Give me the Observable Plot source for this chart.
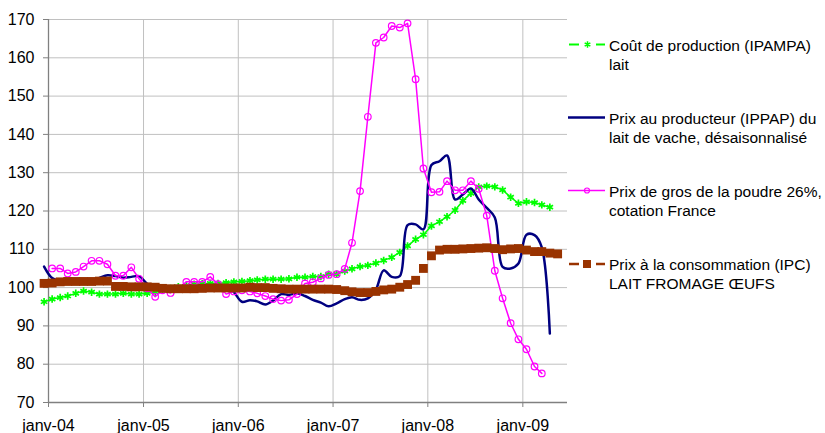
<!DOCTYPE html>
<html><head><meta charset="utf-8">
<script src="https://cdn.jsdelivr.net/npm/d3@7"></script>
<script src="https://cdn.jsdelivr.net/npm/@observablehq/plot@0.6"></script>
<style>
html,body{margin:0;padding:0;background:#fff;}
#wrap{position:relative;width:825px;height:433px;overflow:hidden;background:#fff;}
#legend{position:absolute;left:0;top:0;pointer-events:none;}
</style></head><body><div id="wrap"></div>
<script>
// ---- Data (monthly indices, base 100) ----
const yTicks = [70, 80, 90, 100, 110, 120, 130, 140, 150, 160, 170];
const xTickYears = [2004, 2005, 2006, 2007, 2008, 2009];
const xTickLabels = ["janv-04", "janv-05", "janv-06", "janv-07", "janv-08", "janv-09"];

const seriesNames = [
  ["Coût de production (IPAMPA)", "lait"],
  ["Prix au producteur (IPPAP) du", "lait de vache, désaisonnalisé"],
  ["Prix de gros de la poudre 26%,", "cotation France"],
  ["Prix à la consommation (IPC)", "LAIT FROMAGE ŒUFS"]
];

// Coût de production (IPAMPA) lait — Dec 2003 .. Apr 2009
const coutStart = [2003, 11];
const coutValues = [
  96.3,
  97.0, 97.4, 97.8, 98.5, 99.1, 98.8, 98.3, 98.3, 98.3, 98.5, 98.3, 98.3,
  98.5, 98.8, 99.3, 99.8, 100.2, 100.6, 100.9, 101.0, 101.1, 101.1, 101.3, 101.5,
  101.6, 101.8, 102.0, 102.2, 102.2, 102.2, 102.3, 102.7, 102.7, 102.9, 102.9, 103.5,
  103.5, 104.3, 104.9, 105.5, 105.8, 106.4, 107.1, 107.9, 109.2, 110.9, 112.6, 113.8,
  116.1, 117.2, 118.5, 120.2, 122.7, 124.6, 126.3, 126.5, 126.3, 125.5, 123.6, 122.0,
  122.4, 122.2, 121.6, 121.0
];

// Prix au producteur (IPPAP) lait de vache — Dec 2003 .. Apr 2009
const ippapStart = [2003, 11];
const ippapValues = [
  105.5,
  102.5, 101.8, 101.6, 101.6, 101.7, 101.8, 102.5, 103.2, 103.0, 102.6, 102.8, 103.0,
  101.0, 100.3, 100.0, 99.8, 99.8, 100.0, 100.2, 100.3, 100.5, 100.6, 100.4, 98.8,
  96.3, 96.7, 96.4, 95.6, 96.6, 98.3, 98.1, 98.5, 97.8, 96.8, 96.1, 95.1,
  95.9, 97.0, 97.5, 96.8, 97.2, 99.5, 104.5, 102.8, 103.0, 116.3, 116.5, 115.2,
  132.0, 133.0, 134.5, 123.0, 124.3, 125.9, 123.0, 120.8, 118.3, 105.4, 105.0, 106.3,
  113.8, 113.7, 110.5, 88.0
];

// Prix de gros de la poudre 26% — Jan 2004 .. Mar 2009
const poudreStart = [2004, 0];
const poudreValues = [
  105.0, 105.0, 103.7, 104.1, 105.5, 107.0, 107.0, 106.1, 103.1, 103.1, 105.3, 102.3,
  99.8, 97.6, 99.3, 98.6, 99.8, 101.5, 101.5, 101.5, 102.8, 100.9, 98.3, 99.0,
  99.3, 99.0, 98.5, 97.8, 97.0, 96.6, 96.8, 98.3, 101.1, 101.4, 102.4, 103.3,
  103.5, 104.9, 111.7, 125.2, 144.6, 163.9, 165.3, 168.3, 167.9, 169.0, 154.4, 131.1,
  124.9, 125.0, 127.8, 125.4, 125.4, 127.8, 125.8, 118.8, 104.4, 97.2, 90.7, 86.5,
  83.9, 79.4, 77.6
];

// Prix à la consommation (IPC) lait fromage oeufs — Dec 2003 .. May 2009
const ipcStart = [2003, 11];
const ipcValues = [
  101.1,
  101.2, 101.5, 101.6, 101.6, 101.6, 101.6, 101.7, 101.7, 100.3, 100.3, 100.2, 100.2,
  100.2, 100.1, 99.8, 99.7, 99.7, 99.7, 99.7, 99.8, 99.9, 99.9, 99.9, 99.9,
  99.9, 100.1, 100.0, 100.0, 99.8, 99.7, 99.6, 99.6, 99.6, 99.6, 99.6, 99.6,
  99.5, 99.2, 98.9, 98.7, 98.7, 99.0, 99.4, 99.6, 100.1, 100.8, 101.9, 105.0,
  108.3, 109.8, 110.0, 110.0, 110.1, 110.2, 110.3, 110.4, 110.2, 109.9, 110.1, 110.2,
  109.8, 109.4, 109.4, 109.0, 108.8
];

const colors = ["#00ff00", "#000080", "#ff00ff", "#993300"];

// ---- Build tables (values dated mid-month) ----
function series(start, values) {
  return values.map((v, i) => ({
    date: d3.utcDay.offset(d3.utcMonth.offset(new Date(Date.UTC(start[0], start[1], 1)), i), 14),
    value: v
  }));
}
const cout = series(coutStart, coutValues);
const ippap = series(ippapStart, ippapValues);
const poudre = series(poudreStart, poudreValues);
const ipc = series(ipcStart, ipcValues);

const xStart = new Date(Date.UTC(2004, 0, 1));
const xEnd = new Date(Date.UTC(2009, 5, 22));
const yearDates = xTickYears.map(y => new Date(Date.UTC(y, 0, 1)));
const labelByYear = new Map(xTickYears.map((y, i) => [y, xTickLabels[i]]));

const font = "'Liberation Sans', Arial, Helvetica, sans-serif";

const chart = Plot.plot({
  width: 825,
  height: 433,
  marginLeft: 48,
  marginRight: 258,
  marginTop: 19,
  marginBottom: 31,
  style: {fontFamily: font, fontSize: "16px", background: "white", color: "black", overflow: "visible"},
  x: {type: "utc", domain: [xStart, xEnd]},
  y: {domain: [70, 170]},
  marks: [
    Plot.gridY(yTicks.slice(1), {stroke: "#c0c0c0", strokeOpacity: 1, strokeWidth: 1}),
    Plot.gridX(yearDates.slice(1), {stroke: "#c0c0c0", strokeOpacity: 1, strokeWidth: 1}),
    Plot.axisY(yTicks, {tickSize: 5, tickPadding: 9, stroke: "#808080", fill: "black", label: null, tickFormat: d => String(d)}),
    Plot.axisX(yearDates, {tickSize: 5, tickPadding: 12, stroke: "#808080", fill: "black", label: null,
      tickFormat: d => labelByYear.get(d.getUTCFullYear())}),
    Plot.ruleX([xStart], {stroke: "#808080", strokeWidth: 1.3}),
    Plot.ruleY([70], {stroke: "#808080", strokeWidth: 1.3}),
    // IPAMPA
    Plot.line(cout, {x: "date", y: "value", stroke: colors[0], strokeWidth: 1.5}),
    Plot.dot(cout, {x: "date", y: "value", symbol: "asterisk", r: 3.5, stroke: colors[0], strokeWidth: 1.7}),
    // IPPAP
    Plot.line(ippap, {x: "date", y: "value", stroke: colors[1], strokeWidth: 2.5, curve: "catmull-rom"}),
    // Poudre
    Plot.line(poudre, {x: "date", y: "value", stroke: colors[2], strokeWidth: 1.5}),
    Plot.dot(poudre, {x: "date", y: "value", symbol: "circle", r: 3.3, stroke: colors[2], fill: "none", strokeWidth: 1.2}),
    // IPC
    Plot.dot(ipc, {x: "date", y: "value", symbol: "square", r: 5, fill: colors[3], stroke: "none"})
  ]
});

const wrap = document.getElementById("wrap");
wrap.appendChild(chart);

// ---- Legend ----
const lg = d3.select(wrap).append("svg")
  .attr("id", "legend").attr("width", 825).attr("height", 433)
  .style("font-family", font).style("font-size", "15.5px");
const baselines = [50.5, 123.5, 196.5, 270];
const lineGap = 19;
seriesNames.forEach((lines, i) => {
  const b = baselines[i];
  const sy = b - 6;
  const g = lg.append("g");
  if (i === 0 || i === 3) {
    g.append("line").attr("x1", 569).attr("x2", 579).attr("y1", sy).attr("y2", sy)
      .attr("stroke", colors[i]).attr("stroke-width", i === 0 ? 2 : 2.5);
    g.append("line").attr("x1", 596).attr("x2", 605).attr("y1", sy).attr("y2", sy)
      .attr("stroke", colors[i]).attr("stroke-width", i === 0 ? 2 : 2.5);
  } else {
    g.append("line").attr("x1", 568).attr("x2", 605).attr("y1", sy).attr("y2", sy)
      .attr("stroke", colors[i]).attr("stroke-width", i === 1 ? 2.5 : 1.5);
  }
  if (i === 0) {
    g.append("path").attr("transform", `translate(587.5,${sy})`)
      .attr("d", d3.symbol(d3.symbolAsterisk, 30)()).attr("stroke", colors[0]).attr("stroke-width", 1.5).attr("fill", "none");
  } else if (i === 2) {
    g.append("circle").attr("cx", 587).attr("cy", sy).attr("r", 2.5)
      .attr("stroke", colors[2]).attr("fill", "none").attr("stroke-width", 1.2);
  } else if (i === 3) {
    g.append("rect").attr("x", 583).attr("y", sy - 4).attr("width", 8).attr("height", 8).attr("fill", colors[3]);
  }
  lines.forEach((t, j) => {
    g.append("text").attr("x", 609).attr("y", b + j * lineGap).attr("fill", "black").text(t);
  });
});
</script></body></html>
